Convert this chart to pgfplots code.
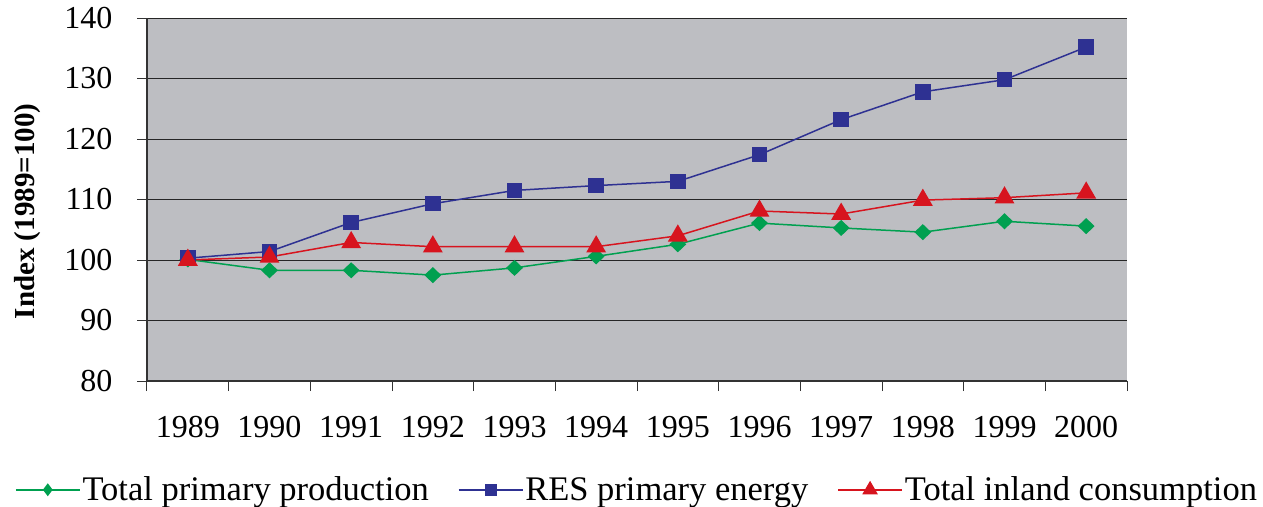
\documentclass[border=0pt]{standalone}
\usepackage{pgfplots}
\pgfplotsset{compat=1.18}
\usepackage{fontspec}
\setmainfont{Liberation Serif}
\definecolor{bgc}{HTML}{BDBEC2}
\definecolor{cg}{HTML}{00A050}
\definecolor{cb}{HTML}{2E3192}
\definecolor{cr}{HTML}{D7141E}
\begin{document}
\begin{tikzpicture}
\begin{axis}[
  scale only axis, width=980pt, height=363pt,
  at={(0pt,0pt)}, anchor=south west,
  xmin=-0.5, xmax=11.5, ymin=80, ymax=140,
  ytick={80,90,...,140},
  ymajorgrids, grid style={black!85, line width=1pt},
  axis x line*=bottom, axis y line*=left,
  axis line style={black!80, line width=1.2pt},
  x axis line style={-}, y axis line style={-},
  axis background/.style={fill=bgc},
  tick align=outside, major tick length=10pt,
  tick style={black!80, line width=1pt},
  xtick={-0.5,0.5,...,11.5}, xticklabels={},
  extra x ticks={0,1,...,11},
  extra x tick labels={1989,1990,1991,1992,1993,1994,1995,1996,1997,1998,1999,2000},
  extra x tick style={major tick length=0pt, grid=none},
  xticklabel style={font=\fontsize{32}{34}\selectfont, yshift=-32pt},
  yticklabel style={font=\fontsize{32}{34}\selectfont, xshift=-21pt},
  /pgf/number format/assume math mode=true,
  ylabel={\textbf{Index (1989=100)}},
  ylabel style={font=\fontsize{29}{31}\selectfont, yshift=17pt, xshift=-12pt},
  legend columns=3,
  legend style={at={(0.5,-0.253)}, anchor=north, draw=none, fill=none,
    font=\fontsize{34.5}{36}\selectfont,
    /tikz/every even column/.append style={column sep=27pt}},
  legend image code/.code={
    \draw[#1] (0pt,0pt) -- (64pt,0pt);
    \draw[#1, only marks, mark options={scale=0.75}] plot coordinates {(32pt,0pt)};},
]
\addplot[cg, line width=1.5pt, mark=diamond*, mark size=7pt, mark options={solid, xscale=1.4}] coordinates {
(0,100.1) (1,98.3) (2,98.3) (3,97.5) (4,98.7) (5,100.6) (6,102.6) (7,106.1) (8,105.3) (9,104.6) (10,106.4) (11,105.6)};
\addlegendentry{Total primary production}
\addplot[cb, line width=1.5pt, mark=square*, mark size=7pt] coordinates {
(0,100.3) (1,101.4) (2,106.2) (3,109.3) (4,111.5) (5,112.3) (6,113.0) (7,117.4) (8,123.2) (9,127.8) (10,129.8) (11,135.2)};
\addlegendentry{RES primary energy}
\addplot[cr, line width=1.5pt, mark=triangle*, mark size=10pt] coordinates {
(0,100.0) (1,100.5) (2,102.9) (3,102.2) (4,102.2) (5,102.2) (6,104.0) (7,108.1) (8,107.6) (9,109.9) (10,110.3) (11,111.1)};
\addlegendentry{Total inland consumption}
\end{axis}
\path[use as bounding box] (-147pt,-125pt) rectangle (1116pt,381pt);
\end{tikzpicture}
\end{document}
